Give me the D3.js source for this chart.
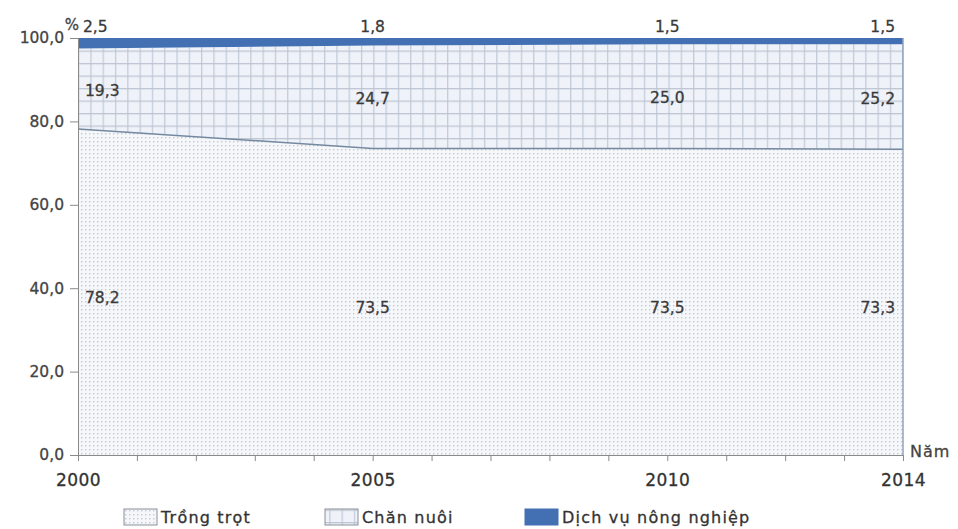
<!DOCTYPE html>
<html>
<head>
<meta charset="utf-8">
<script src="https://cdn.jsdelivr.net/npm/d3@7/dist/d3.min.js"></script>
<style>
  html, body { margin: 0; padding: 0; background: #fff; }
  svg { display: block; font-family: "DejaVu Sans", Verdana, sans-serif; }
  svg text { stroke: currentColor; stroke-width: 0.3px; }
</style>
</head>
<body>
<svg id="chart" width="958" height="529"></svg>
<script>
// Cơ cấu giá trị sản xuất nông nghiệp (%)
const years = [2000, 2005, 2010, 2014];
const trongTrot = [78.2, 73.5, 73.5, 73.3];
const chanNuoi = [19.3, 24.7, 25.0, 25.2];
const dichVu = [2.5, 1.8, 1.5, 1.5];
const yTicks = [0, 20, 40, 60, 80, 100];
const seriesNames = ["Trồng trọt", "Chăn nuôi", "Dịch vụ nông nghiệp"];

const svg = d3.select("#chart").style("color", "#3a3a3a");
const plotLeft = 78, plotRight = 903, plotTop = 38, plotBottom = 455;

const x = d3.scaleLinear().domain([2000, 2014]).range([plotLeft, plotRight]);
const y = d3.scaleLinear().domain([0, 100]).range([plotBottom, plotTop]);
const fmt = v => d3.format(".1f")(v).replace(".", ",");

// fill patterns
const defs = svg.append("defs");
const dots = defs.append("pattern").attr("id", "dots")
  .attr("patternUnits", "userSpaceOnUse").attr("width", 4).attr("height", 4);
dots.append("rect").attr("width", 4).attr("height", 4).attr("fill", "#f5f7fa");
dots.append("rect").attr("x", 1).attr("y", 1).attr("width", 1.4).attr("height", 1.4).attr("fill", "#c5cad1");

const grid = defs.append("pattern").attr("id", "grid")
  .attr("patternUnits", "userSpaceOnUse").attr("width", 12.3).attr("height", 12.5)
  .attr("x", plotLeft).attr("y", plotTop);
grid.append("rect").attr("width", 12.3).attr("height", 12.5).attr("fill", "#eff3f9");
grid.append("rect").attr("x", 0).attr("y", 0).attr("width", 1.3).attr("height", 12.5).attr("fill", "#c3ccd9");
grid.append("rect").attr("x", 0).attr("y", 0).attr("width", 12.3).attr("height", 1.3).attr("fill", "#bfc5d3");

const fills = ["url(#dots)", "url(#grid)", "#4270b3"];

const rows = years.map((yr, i) => ({ year: yr, a: trongTrot[i], b: chanNuoi[i], c: dichVu[i] }));
const stack = d3.stack().keys(["a", "b", "c"]);
const layers = stack(rows);

const area = d3.area()
  .x(d => x(d.data.year))
  .y0(d => y(d[0]))
  .y1(d => y(d[1]));

svg.append("g").selectAll("path").data(layers).join("path")
  .attr("d", area)
  .attr("fill", (d, i) => fills[i]);

// boundary between crops and livestock
svg.append("path")
  .datum(layers[0])
  .attr("d", d3.line().x(d => x(d.data.year)).y(d => y(d[1])))
  .attr("fill", "none").attr("stroke", "#7488a0").attr("stroke-width", 1.5);

// right edge of the area
svg.append("line")
  .attr("x1", x(2014)).attr("x2", x(2014))
  .attr("y1", y(0)).attr("y2", y(100))
  .attr("stroke", "#8fa3bd").attr("stroke-width", 1.5);

// y axis
const yAxis = d3.axisLeft(y).tickValues(yTicks).tickFormat(fmt).tickSize(8).tickPadding(6);
const gy = svg.append("g").attr("transform", `translate(${plotLeft},0)`).call(yAxis);
gy.select(".domain").attr("stroke", "#8a8a8a");
gy.selectAll(".tick line").attr("stroke", "#8a8a8a");
gy.selectAll(".tick text").attr("font-size", 15.5).attr("fill", "#444").style("color", "#444")
  .attr("font-family", "DejaVu Sans, sans-serif");

// x axis: yearly ticks, labels at data years
const xAxis = d3.axisBottom(x).tickValues(d3.range(2000, 2015)).tickSize(6)
  .tickFormat(d => years.includes(d) ? d : "").tickPadding(13);
const gx = svg.append("g").attr("transform", `translate(0,${plotBottom})`).call(xAxis);
gx.select(".domain").attr("stroke", "#8a8a8a");
gx.selectAll(".tick line").attr("stroke", "#8a8a8a");
gx.selectAll(".tick text").attr("font-size", 17).attr("fill", "#333").style("color", "#333")
  .attr("font-family", "DejaVu Sans, sans-serif").attr("letter-spacing", 0.5);

// axis units
svg.append("text").attr("x", 72).attr("y", 30).attr("text-anchor", "middle")
  .attr("font-size", 15).attr("fill", "#444").style("color", "#444").text("%");
svg.append("text").attr("x", 910).attr("y", 457)
  .attr("font-size", 16).attr("fill", "#444").style("color", "#444")
  .attr("letter-spacing", 1).text("Năm");

// value labels
const anchorX = i => i === 0 ? x(years[i]) + 7 : (i === years.length - 1 ? x(years[i]) - 8 : x(years[i]));
const anchor = i => i === 0 ? "start" : (i === years.length - 1 ? "end" : "middle");
const labels = svg.append("g").attr("font-size", 15.5).attr("fill", "#3a3a3a");

// services above the chart
labels.selectAll("text.dv").data(dichVu).join("text").attr("class", "dv")
  .attr("x", (d, i) => i === 0 ? x(years[i]) + 5 : anchorX(i))
  .attr("y", 32)
  .attr("text-anchor", (d, i) => anchor(i))
  .text(fmt);

labels.selectAll("text.cn").data(layers[1]).join("text").attr("class", "cn")
  .attr("x", (d, i) => anchorX(i))
  .attr("y", d => y((d[0] + d[1]) / 2) + 7)
  .attr("text-anchor", (d, i) => anchor(i))
  .text(d => fmt(d[1] - d[0]));

labels.selectAll("text.tt").data(layers[0]).join("text").attr("class", "tt")
  .attr("x", (d, i) => anchorX(i))
  .attr("y", d => y((d[0] + d[1]) / 2) + 11)
  .attr("text-anchor", (d, i) => anchor(i))
  .text(d => fmt(d[1] - d[0]));

// legend
const legendX = [124, 325, 525];
const lg = svg.append("g").selectAll("g").data(seriesNames).join("g")
  .attr("transform", (d, i) => `translate(${legendX[i]},509)`);
lg.append("rect").attr("width", 33).attr("height", 16)
  .attr("fill", (d, i) => fills[i])
  .attr("stroke", (d, i) => i === 2 ? "#4270b3" : "#8a8f98").attr("stroke-width", 1);
lg.append("text").attr("x", 37).attr("y", 14)
  .attr("font-size", 16).attr("fill", "#333").style("color", "#333")
  .attr("letter-spacing", 1.2)
  .text(d => d);
</script>
</body>
</html>
